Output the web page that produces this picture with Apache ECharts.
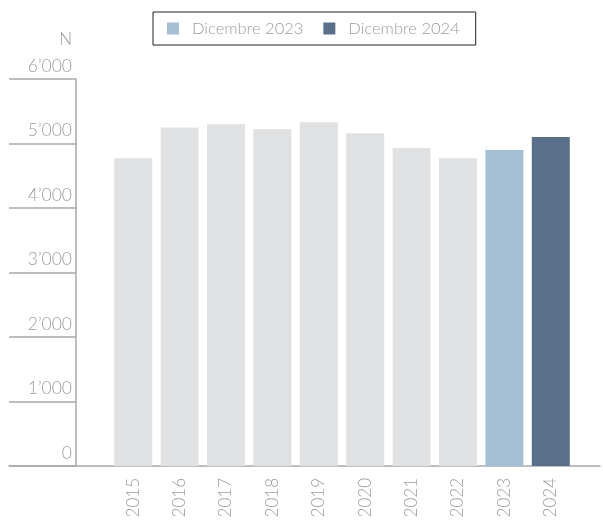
<!DOCTYPE html>
<html>
<head>
<meta charset="utf-8">
<script src="https://cdn.jsdelivr.net/npm/echarts@6/dist/echarts.min.js"></script>
<style>
  html, body { margin: 0; padding: 0; background: #fff; }
  #myChart { width: 603px; height: 521px; }
</style>
</head>
<body>
<div id="myChart"></div>
<script>
// dati
var anni = ['2015', '2016', '2017', '2018', '2019', '2020', '2021', '2022', '2023', '2024'];
var storico = [4770, 5250, 5300, 5220, 5330, 5160, 4930, 4770, null, null];
var dic2023 = [null, null, null, null, null, null, null, null, 4900, null];
var dic2024 = [null, null, null, null, null, null, null, null, null, 5100];
var yTicks = [0, 1000, 2000, 3000, 4000, 5000, 6000];

var font = 'Lato, "Open Sans", sans-serif';
var grigio = '#a9a9a9';
var testo = '#9c9c9c';

function fmt(v) {
  // separatore migliaia con apostrofo
  return String(v).replace(/\B(?=(\d{3})+(?!\d))/g, '\u2019');
}

var myChart = echarts.init(document.getElementById('myChart'));
myChart.setOption({
  animation: false,
  textStyle: { fontFamily: font },
  legend: {
    data: ['Dicembre 2023', 'Dicembre 2024'],
    top: 12,
    left: 153,
    padding: [8, 16, 8, 14],
    borderColor: '#222',
    borderWidth: 1,
    itemWidth: 12,
    itemHeight: 12,
    itemGap: 20,
    icon: 'rect',
    textStyle: { color: testo, fontSize: 16.5, fontWeight: 300, fontFamily: font, padding: [0, 0, 0, 8] }
  },
  grid: [
    { left: 110, right: 29, top: 79, bottom: 55, outerBoundsMode: 'none' },  // barre
    { left: 9, width: 67, top: 79, bottom: 55, outerBoundsMode: 'none' },    // etichette asse y
    { left: 9, right: 3, top: 79, bottom: 55, outerBoundsMode: 'none' }      // linea asse x
  ],
  xAxis: [
    {
      gridIndex: 0,
      type: 'category',
      data: anni,
      axisLine: { show: false },
      axisTick: { show: false },
      axisLabel: {
        rotate: 90,
        margin: 12,
        color: testo,
        fontSize: 17,
        fontWeight: 300,
        fontFamily: font
      }
    },
    { gridIndex: 1, type: 'value', show: false },
    {
      gridIndex: 2,
      type: 'value',
      axisLine: { show: true, lineStyle: { color: grigio, width: 1.5 } },
      axisTick: { show: false },
      axisLabel: { show: false },
      splitLine: { show: false }
    }
  ],
  yAxis: [
    {
      gridIndex: 0,
      type: 'value',
      position: 'left',
      offset: 34,
      min: 0,
      max: 6000,
      interval: 1000,
      name: 'N',
      nameLocation: 'end',
      nameGap: 31,
      nameTextStyle: {
        color: testo,
        fontSize: 17,
        fontWeight: 300,
        fontFamily: font,
        align: 'right',
        verticalAlign: 'bottom',
        padding: [0, 4, 0, 0]
      },
      axisLine: { show: true, lineStyle: { color: grigio, width: 1.5 } },
      axisTick: { show: false },
      axisLabel: { show: false },
      splitLine: { show: false }
    },
    {
      gridIndex: 1,
      type: 'value',
      position: 'left',
      min: 0,
      max: 6000,
      interval: 1000,
      axisLine: { show: false },
      axisTick: { show: false },
      splitLine: { show: true, lineStyle: { color: grigio, width: 1.5 } },
      axisLabel: {
        inside: true,
        margin: 63,
        align: 'right',
        verticalAlign: 'bottom',
        padding: [0, 0, 4, 0],
        color: testo,
        fontSize: 17.5,
        fontWeight: 300,
        fontFamily: font,
        formatter: function (v) { return yTicks.indexOf(v) >= 0 ? fmt(v) : ''; }
      }
    },
    { gridIndex: 2, type: 'value', min: 0, max: 6000, show: false }
  ],
  series: [
    {
      name: 'Storico',
      type: 'bar',
      stack: 'tot',
      xAxisIndex: 0,
      yAxisIndex: 0,
      barWidth: 38,
      itemStyle: { color: '#e0e1e3' },
      data: storico
    },
    {
      name: 'Dicembre 2023',
      type: 'bar',
      stack: 'tot',
      xAxisIndex: 0,
      yAxisIndex: 0,
      barWidth: 38,
      itemStyle: { color: '#a5bfd4' },
      data: dic2023
    },
    {
      name: 'Dicembre 2024',
      type: 'bar',
      stack: 'tot',
      xAxisIndex: 0,
      yAxisIndex: 0,
      barWidth: 38,
      itemStyle: { color: '#5a6f8a' },
      data: dic2024
    }
  ]
});
</script>
</body>
</html>
